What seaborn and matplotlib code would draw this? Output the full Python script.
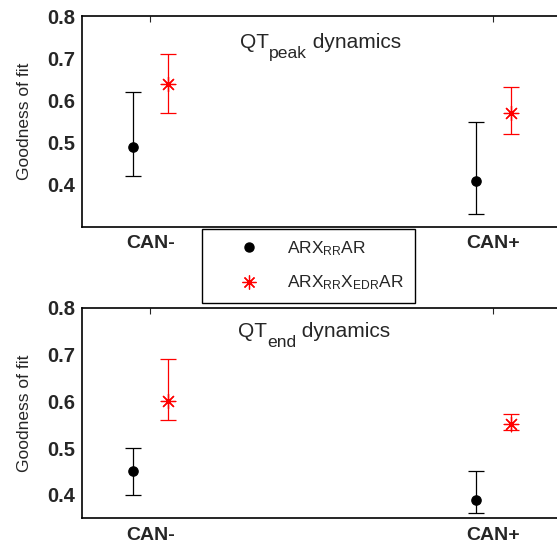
import numpy as np
import pandas as pd
import seaborn as sns
import matplotlib.pyplot as plt
from matplotlib.lines import Line2D
from matplotlib.transforms import offset_copy

# ---- data ----
groups = ['CAN-', 'CAN+']
models = ['ARX_RR AR', 'ARX_RR X_EDR AR']
model_labels = [r'ARX$_{\mathrm{RR}}$AR', r'ARX$_{\mathrm{RR}}$X$_{\mathrm{EDR}}$AR']

# QT peak: [CAN-, CAN+]
peak_mean_a = [0.49, 0.41]
peak_lo_a = [0.42, 0.33]
peak_hi_a = [0.62, 0.548]
peak_mean_b = [0.64, 0.57]
peak_lo_b = [0.57, 0.521]
peak_hi_b = [0.71, 0.632]

# QT end
end_mean_a = [0.45, 0.39]
end_lo_a = [0.40, 0.361]
end_hi_a = [0.50, 0.452]
end_mean_b = [0.60, 0.551]
end_lo_b = [0.56, 0.539]
end_hi_b = [0.69, 0.572]

rows = []
for panel, series in [('peak', [(models[0], peak_mean_a, peak_lo_a, peak_hi_a),
                                (models[1], peak_mean_b, peak_lo_b, peak_hi_b)]),
                      ('end', [(models[0], end_mean_a, end_lo_a, end_hi_a),
                               (models[1], end_mean_b, end_lo_b, end_hi_b)])]:
    for mi, (m, mu, lo, hi) in enumerate(series):
        for gi, g in enumerate(groups):
            rows.append({'panel': panel, 'model': m, 'group': g,
                         'x': gi + 1 + (-0.05 if mi == 0 else 0.05),
                         'value': mu[gi], 'lo': lo[gi], 'hi': hi[gi]})
df = pd.DataFrame(rows)

sns.set_style('white')
plt.rcParams['font.family'] = ['Liberation Sans', 'DejaVu Sans']
plt.rcParams['mathtext.fontset'] = 'custom'
plt.rcParams['mathtext.rm'] = 'Liberation Sans'
plt.rcParams['mathtext.it'] = 'Liberation Sans'
plt.rcParams['mathtext.bf'] = 'Liberation Sans:bold'

colors = {models[0]: 'black', models[1]: 'red'}
star = (8, 2, 0)
markers = {models[0]: 'o', models[1]: star}
sizes = {models[0]: 45, models[1]: 110}

fig = plt.figure(figsize=(5.57, 5.45), dpi=100)
ax_top = fig.add_axes([0.147, 0.5835, 0.862, 0.387])
ax_bot = fig.add_axes([0.147, 0.049, 0.862, 0.3864])
renderer = fig.canvas.get_renderer()


def sub_text(ax, x, y, parts, size=15, sub_size=12.6, sub_drop=10):
    # draw text pieces one after another, subscripts smaller and lower
    trans = ax.transData
    for txt, is_sub in parts:
        if is_sub:
            t = ax.text(x, y, txt, fontsize=sub_size,
                        transform=offset_copy(trans, fig=fig, y=-sub_drop, units='dots'))
        else:
            t = ax.text(x, y, txt, fontsize=size, transform=trans)
        ex = t.get_window_extent(renderer)
        trans = offset_copy(trans, fig=fig, x=ex.width, units='dots')


titles = {'peak': [('QT', False), ('peak', True), (' dynamics', False)],
          'end': [('QT', False), ('end', True), (' dynamics', False)]}
ylims = {'peak': (0.3, 0.8), 'end': (0.35, 0.8)}
title_y = {'peak': 0.724, 'end': 0.737}
title_x = {'peak': 1.26, 'end': 1.255}

for ax, panel in [(ax_top, 'peak'), (ax_bot, 'end')]:
    d = df[df.panel == panel]
    for m in models:
        dm = d[d.model == m]
        ax.errorbar(dm.x, dm.value, yerr=[dm.value - dm.lo, dm.hi - dm.value],
                    fmt='none', ecolor=colors[m], elinewidth=0.9, capsize=5.8,
                    capthick=0.9, zorder=2)
        sns.scatterplot(data=dm, x='x', y='value', color=colors[m],
                        marker=markers[m], s=sizes[m], linewidth=0.9,
                        edgecolor=colors[m], ax=ax, legend=False, zorder=3)
    ax.set_xlim(0.8, 2.2)
    ax.set_ylim(*ylims[panel])
    ax.set_xticks([1, 2])
    ax.set_xticklabels(groups, fontsize=14, fontweight='bold')
    ax.set_yticks([0.4, 0.5, 0.6, 0.7, 0.8])
    ax.set_yticklabels(['0.4', '0.5', '0.6', '0.7', '0.8'], fontsize=14.5,
                       fontweight='bold')
    ax.tick_params(direction='in', length=4, width=0.8, top=True, right=False,
                   pad=5)
    ax.tick_params(axis='x', pad=6)
    ax.set_xlabel('')
    ax.set_ylabel('Goodness of fit', fontsize=12.5, labelpad=11)
    for s in ['left', 'bottom', 'top']:
        ax.spines[s].set_linewidth(1.2)
        ax.spines[s].set_color('black')
    sub_text(ax, title_x[panel], title_y[panel], titles[panel])

handles = [Line2D([], [], color='black', marker='o', linestyle='none',
                  markersize=6.5),
           Line2D([], [], color='red', marker=star, linestyle='none',
                  markersize=10, markeredgewidth=0.9)]
leg = fig.legend(handles, model_labels, loc='upper left',
                 bbox_to_anchor=(0.363, 0.580), fontsize=12.5, frameon=True,
                 fancybox=False, edgecolor='black', framealpha=1,
                 handlelength=4.2, handletextpad=0.1, labelspacing=0.9,
                 borderpad=0.6, borderaxespad=0)
leg.get_frame().set_linewidth(1.0)

fig.savefig('out.png', dpi=100)
